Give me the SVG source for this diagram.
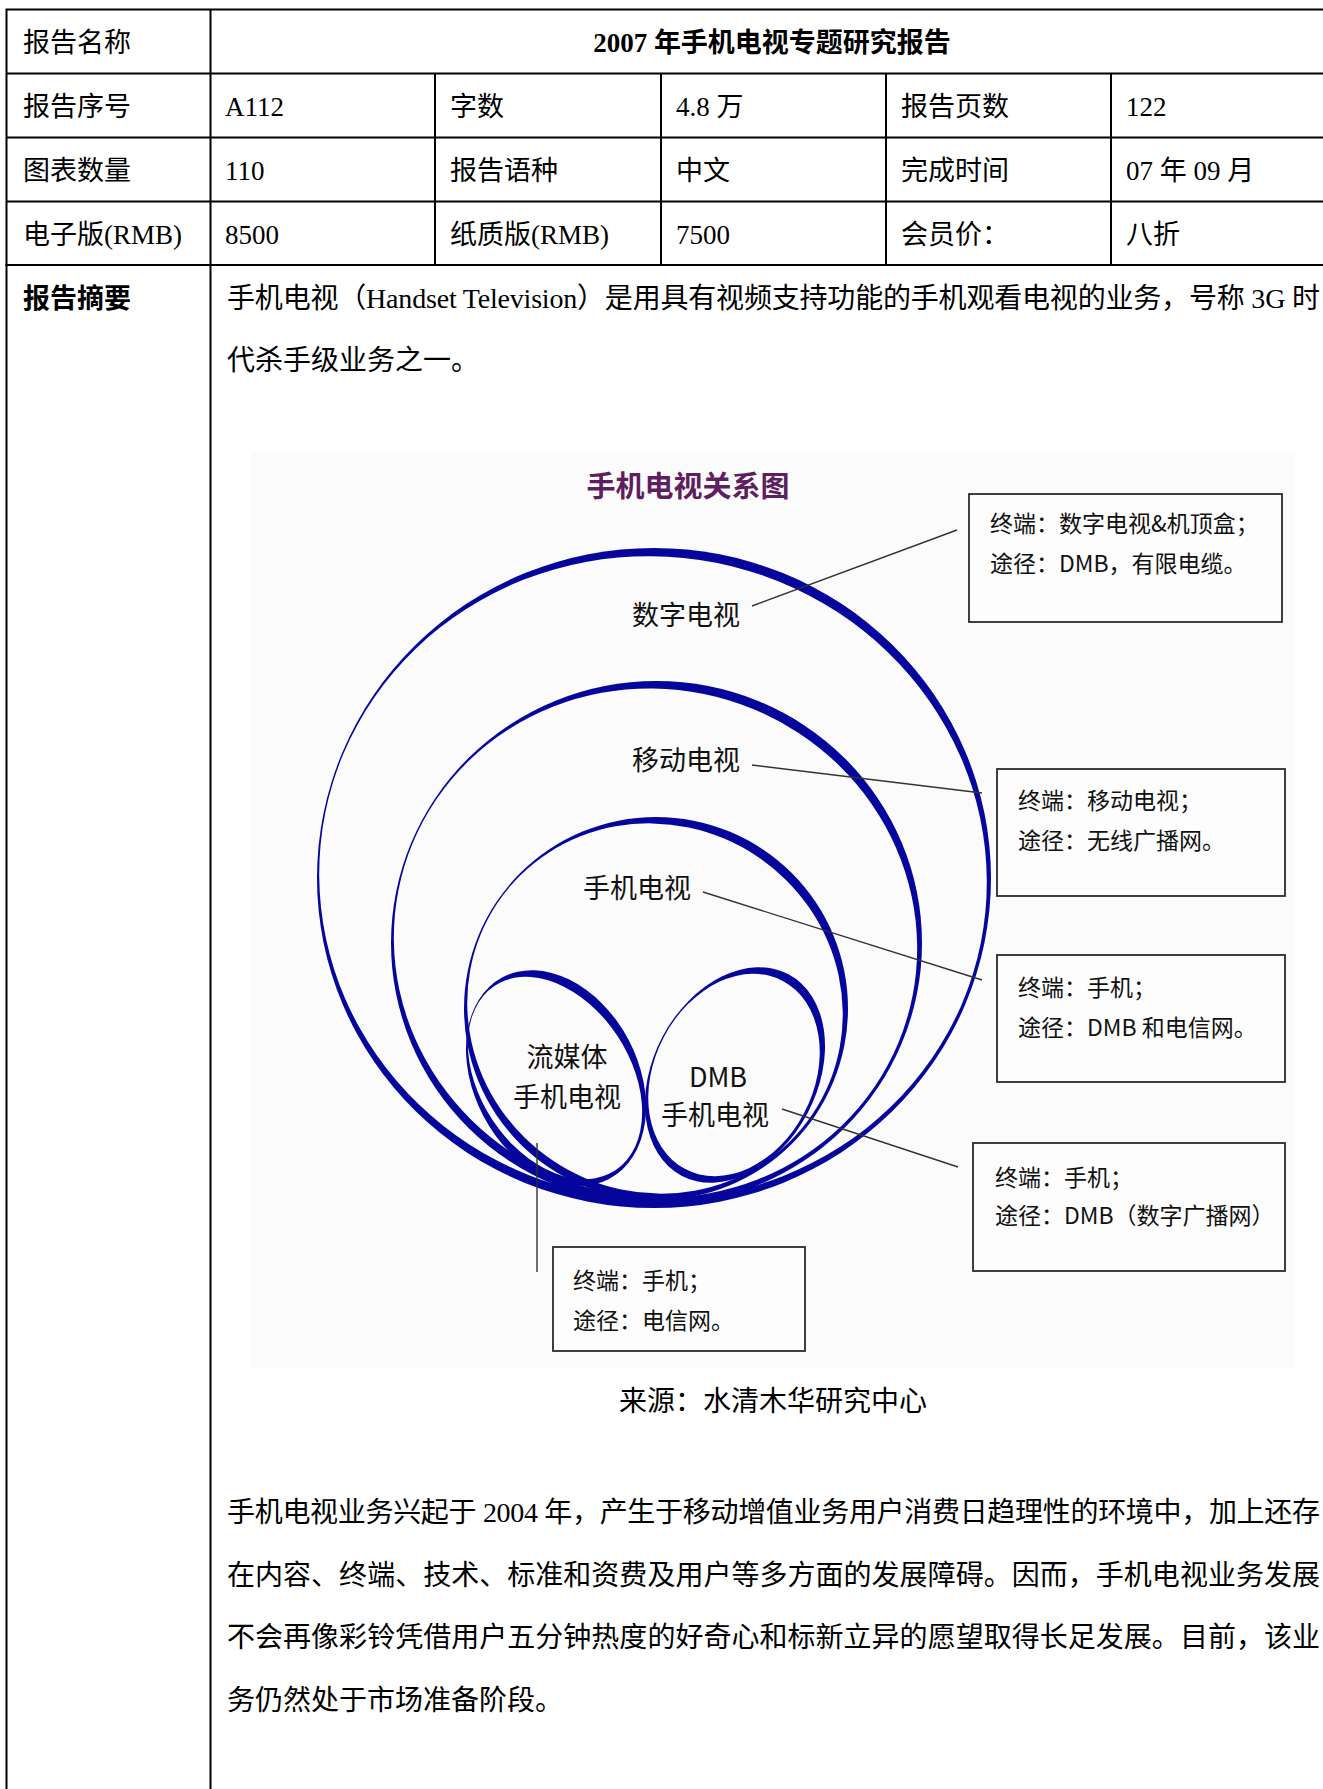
<svg xmlns="http://www.w3.org/2000/svg" width="1323" height="1789" viewBox="0 0 1323 1789">
<style>
.t{font-family:"Liberation Serif","Noto Sans CJK SC",serif;font-size:27px;fill:#000}
.p{font-size:28px}
.b{font-weight:bold}
.grid{stroke:#000;stroke-width:2;fill:none}
.d{font-family:"Noto Sans CJK SC",sans-serif;fill:#111}
.lbl{font-size:27px}
.bxt{font-size:23px}
.box{fill:#fdfdfd;stroke:#2b2b2b;stroke-width:1.8}
.ring{fill:#06069c}
.lead{stroke:#333;stroke-width:1.4;fill:none}
</style>
<defs>
<mask id="mk1" maskUnits="userSpaceOnUse" x="0" y="0" width="1323" height="1789"><rect width="1323" height="1789" fill="#fff"/><ellipse cx="0" cy="0" rx="337" ry="330" fill="#000" transform="translate(653,878) rotate(-70) scale(0.973,0.9928) rotate(70)"/></mask>
<mask id="mk2" maskUnits="userSpaceOnUse" x="0" y="0" width="1323" height="1789"><rect width="1323" height="1789" fill="#fff"/><ellipse cx="0" cy="0" rx="265.5" ry="262" fill="#000" transform="translate(655.5,943) rotate(-62) scale(0.966,0.991) rotate(62)"/></mask>
<mask id="mk3" maskUnits="userSpaceOnUse" x="0" y="0" width="1323" height="1789"><rect width="1323" height="1789" fill="#fff"/><ellipse cx="0" cy="0" rx="192" ry="191.5" fill="#000" transform="translate(655,1008.5) rotate(-55) scale(0.956,0.9885) rotate(55)"/></mask>
<mask id="mk4" maskUnits="userSpaceOnUse" x="0" y="0" width="1323" height="1789"><rect width="1323" height="1789" fill="#fff"/><ellipse cx="0" cy="0" rx="82" ry="114" fill="#000" transform="translate(555,1078) rotate(-55) scale(0.906,0.98) rotate(55) rotate(-28)"/></mask>
<mask id="mk5" maskUnits="userSpaceOnUse" x="0" y="0" width="1323" height="1789"><rect width="1323" height="1789" fill="#fff"/><ellipse cx="0" cy="0" rx="82" ry="114" fill="#000" transform="translate(734,1075) rotate(-55) scale(0.929,0.9735) rotate(55) rotate(28)"/></mask>
</defs>
<rect width="1323" height="1789" fill="#fff"/>

<g id="table">
<path class="grid" d="M5.5 9.5H1323M5.5 73.5H1323M5.5 137.5H1323M5.5 201.5H1323M6.5 8.5V1789M210.5 8.5V1789M435 73.5V265M661 73.5V265M886 73.5V265M1111 73.5V265"/>
<path class="grid" stroke-width="2.6" d="M5.5 265H1323"/>
<text class="t" x="23" y="52">报告名称</text>
<text class="t b" x="772" y="52" text-anchor="middle">2007 年手机电视专题研究报告</text>
<text class="t" x="23" y="116">报告序号</text>
<text class="t" x="225" y="116">A112</text>
<text class="t" x="450" y="116">字数</text>
<text class="t" x="676" y="116">4.8 万</text>
<text class="t" x="901" y="116">报告页数</text>
<text class="t" x="1126" y="116">122</text>
<text class="t" x="23" y="180">图表数量</text>
<text class="t" x="225" y="180">110</text>
<text class="t" x="450" y="180">报告语种</text>
<text class="t" x="676" y="180">中文</text>
<text class="t" x="901" y="180">完成时间</text>
<text class="t" x="1126" y="180">07 年 09 月</text>
<text class="t" x="23" y="244">电子版(RMB)</text>
<text class="t" x="225" y="244">8500</text>
<text class="t" x="450" y="244">纸质版(RMB)</text>
<text class="t" x="676" y="244">7500</text>
<text class="t" x="901" y="244">会员价：</text>
<text class="t" x="1126" y="244">八折</text>
<text class="t b" x="23" y="308">报告摘要</text>
<text class="t p" x="227" y="308" textLength="1093" lengthAdjust="spacing">手机电视（Handset Television）是用具有视频支持功能的手机观看电视的业务，号称 3G 时</text>
<text class="t p" x="227" y="370">代杀手级业务之一。</text>
<text class="t p" x="773" y="1411" text-anchor="middle">来源：水清木华研究中心</text>
<text class="t p" x="227" y="1522" textLength="1093" lengthAdjust="spacing">手机电视业务兴起于 2004 年，产生于移动增值业务用户消费日趋理性的环境中，加上还存</text>
<text class="t p" x="227" y="1585" textLength="1093" lengthAdjust="spacing">在内容、终端、技术、标准和资费及用户等多方面的发展障碍。因而，手机电视业务发展</text>
<text class="t p" x="227" y="1647" textLength="1093" lengthAdjust="spacing">不会再像彩铃凭借用户五分钟热度的好奇心和标新立异的愿望取得长足发展。目前，该业</text>
<text class="t p" x="227" y="1710">务仍然处于市场准备阶段。</text>
</g>

<g id="diagram">
<rect x="251" y="451" width="1044" height="917" fill="#fbfbfb"/>
<text class="d b" x="688" y="497" text-anchor="middle" font-size="29" style="fill:#5e1f5e">手机电视关系图</text>

<g id="ring-digital">
<ellipse class="ring" cx="654" cy="878" rx="337" ry="330" mask="url(#mk1)"/>
<text class="d lbl" x="632" y="625">数字电视</text>
</g>
<g id="ring-mobile">
<ellipse class="ring" cx="656.5" cy="943" rx="265.5" ry="262" mask="url(#mk2)"/>
<text class="d lbl" x="632" y="770">移动电视</text>
</g>
<g id="ring-handset">
<ellipse class="ring" cx="656" cy="1008.5" rx="192" ry="191.5" mask="url(#mk3)"/>
<text class="d lbl" x="583" y="898">手机电视</text>
</g>
<g id="ring-streaming">
<g mask="url(#mk4)"><ellipse class="ring" cx="0" cy="0" rx="82" ry="114" transform="translate(556,1078) rotate(-28)"/></g>
<text class="d lbl" x="567" y="1067" text-anchor="middle">流媒体</text>
<text class="d lbl" x="567" y="1107" text-anchor="middle">手机电视</text>
</g>
<g id="ring-dmb">
<g mask="url(#mk5)"><ellipse class="ring" cx="0" cy="0" rx="82" ry="114" transform="translate(735,1075) rotate(28)"/></g>
<text class="d lbl" x="718" y="1087" text-anchor="middle">DMB</text>
<text class="d lbl" x="715" y="1125" text-anchor="middle">手机电视</text>
</g>

<g id="box-digital">
<rect class="box" x="969" y="494" width="313" height="128"/>
<text class="d bxt" x="990" y="532">终端：数字电视&amp;机顶盒；</text>
<text class="d bxt" x="990" y="572">途径：DMB，有限电缆。</text>
</g>
<g id="box-mobile">
<rect class="box" x="997" y="769" width="288" height="127"/>
<text class="d bxt" x="1018" y="809">终端：移动电视；</text>
<text class="d bxt" x="1018" y="849">途径：无线广播网。</text>
</g>
<g id="box-handset">
<rect class="box" x="997" y="955" width="288" height="127"/>
<text class="d bxt" x="1018" y="996">终端：手机；</text>
<text class="d bxt" x="1018" y="1036">途径：DMB 和电信网。</text>
</g>
<g id="box-dmb">
<rect class="box" x="973" y="1143" width="312" height="128"/>
<text class="d bxt" x="995" y="1186">终端：手机；</text>
<text class="d bxt" x="995" y="1224">途径：DMB（数字广播网）</text>
</g>
<g id="box-streaming">
<rect class="box" x="553" y="1247" width="252" height="104"/>
<text class="d bxt" x="573" y="1289">终端：手机；</text>
<text class="d bxt" x="573" y="1329">途径：电信网。</text>
</g>

<g id="connectors">
<path class="lead" d="M752 606L957 530"/>
<path class="lead" d="M752 765L982 793"/>
<path class="lead" d="M703 892L982 980"/>
<path class="lead" d="M782 1109L958 1167"/>
<path class="lead" d="M537 1143V1272"/>
</g>
</g>
</svg>
